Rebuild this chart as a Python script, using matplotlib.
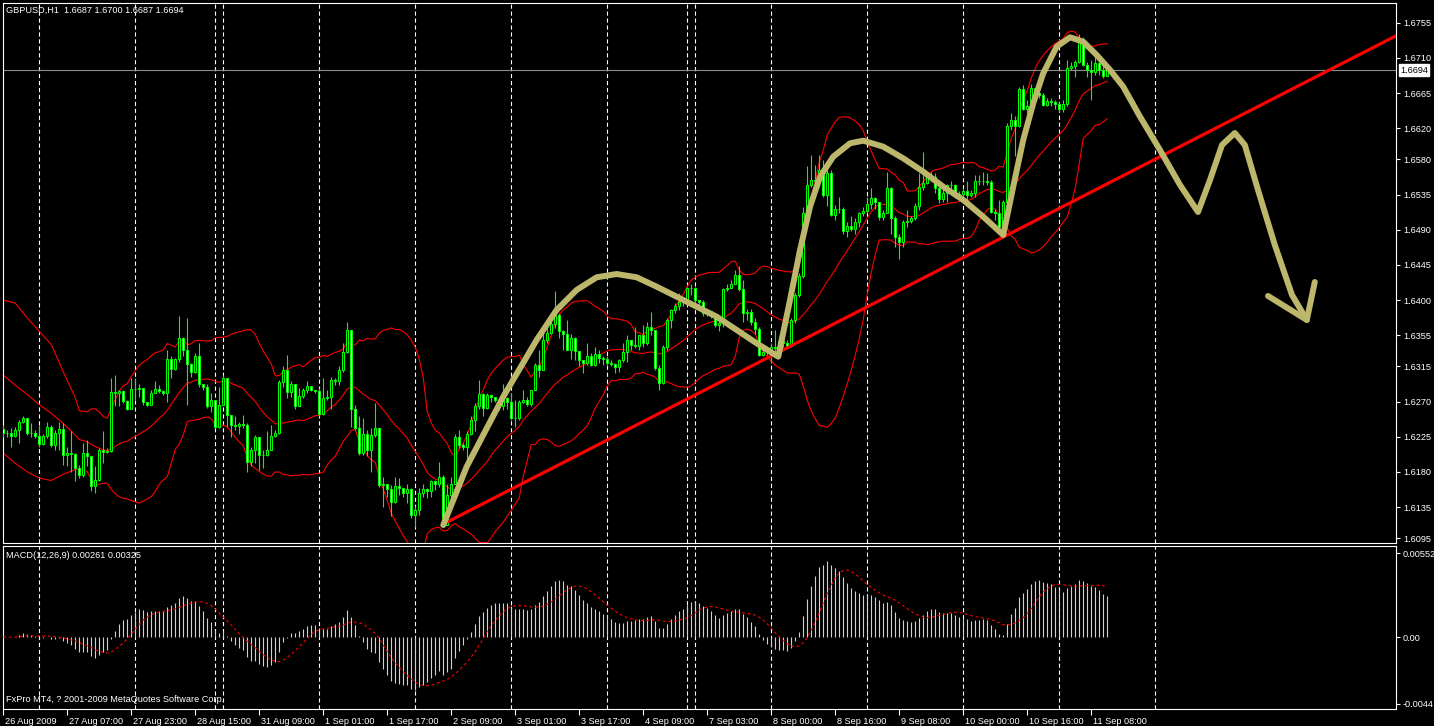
import numpy as np
import pandas as pd
import matplotlib
matplotlib.use("Agg")
import matplotlib.pyplot as plt
import matplotlib.transforms as mtrans

# ---------------- data (prices in pips above 1.6000) ----------------
open0 = 235
close_pips = [
    230, 230, 226, 234, 244, 249, 230, 230, 226, 216,
    226, 238, 215, 230, 235, 201, 204, 203, 185, 176,
    204, 200, 162, 170, 208, 206, 207, 282, 281, 283,
    271, 261, 286, 286, 288, 269, 266, 281, 286, 284,
    281, 325, 312, 325, 352, 336, 318, 308, 328, 293,
    289, 264, 272, 238, 266, 300, 253, 240, 239, 241,
    240, 193, 208, 225, 202, 202, 208, 226, 230, 295,
    311, 282, 292, 264, 277, 285, 290, 285, 283, 254,
    274, 276, 298, 296, 311, 334, 362, 261, 236, 204,
    228, 208, 227, 236, 163, 164, 158, 142, 162, 159,
    153, 158, 125, 131, 153, 158, 155, 168, 165, 174,
    112, 151, 165, 225, 215, 212, 229, 247, 264, 280,
    262, 279, 276, 272, 264, 274, 269, 249, 249, 270,
    272, 267, 285, 317, 310, 349, 358, 369, 381, 360,
    357, 336, 351, 335, 323, 319, 328, 317, 331, 326,
    324, 320, 318, 314, 323, 333, 349, 342, 341, 355,
    345, 365, 362, 313, 294, 340, 374, 387, 392, 397,
    397, 416, 415, 400, 397, 383, 386, 380, 368, 371,
    414, 416, 421, 432, 414, 383, 385, 372, 363, 330,
    334, 335, 340, 338, 347, 345, 341, 374, 406, 431,
    511, 547, 554, 552, 566, 534, 562, 509, 516, 517,
    488, 495, 491, 500, 511, 514, 523, 530, 525, 506,
    512, 543, 505, 481, 474, 500, 501, 505, 520, 545,
    550, 559, 557, 543, 529, 537, 547, 547, 533, 536,
    540, 535, 537, 552, 552, 553, 551, 513, 512, 494,
    526, 623, 630, 623, 670, 645, 648, 672, 665, 663,
    650, 655, 653, 651, 645, 651, 697, 699, 705, 733,
    701, 694, 692, 703, 694, 687, 694,
]
high_pips = [
    240, 234, 236, 238, 247, 251, 249, 242, 234, 240,
    228, 244, 240, 234, 244, 242, 212, 232, 204, 189,
    217, 221, 198, 187, 210, 232, 210, 300, 304, 285,
    285, 272, 300, 300, 293, 285, 270, 285, 296, 291,
    285, 336, 328, 326, 379, 353, 377, 319, 332, 345,
    293, 293, 281, 272, 289, 304, 300, 253, 251, 244,
    253, 242, 212, 227, 221, 208, 232, 240, 234, 298,
    315, 330, 296, 293, 287, 287, 296, 289, 285, 287,
    300, 285, 302, 300, 315, 345, 372, 362, 266, 251,
    249, 234, 236, 268, 227, 174, 165, 163, 174, 172,
    160, 165, 159, 136, 159, 165, 159, 170, 170, 193,
    176, 165, 174, 229, 234, 217, 232, 251, 268, 298,
    281, 281, 278, 276, 272, 293, 276, 281, 272, 272,
    285, 276, 285, 319, 336, 362, 372, 375, 411, 383,
    362, 375, 357, 353, 328, 321, 345, 332, 340, 336,
    328, 328, 323, 319, 325, 345, 355, 349, 366, 355,
    368, 372, 385, 362, 317, 343, 377, 389, 396, 409,
    400, 417, 421, 417, 400, 400, 389, 385, 381, 379,
    415, 421, 426, 439, 443, 426, 389, 389, 377, 366,
    340, 340, 345, 362, 353, 353, 349, 377, 409, 434,
    519, 571, 586, 573, 586, 579, 575, 566, 522, 532,
    519, 500, 507, 505, 513, 519, 532, 543, 532, 524,
    515, 564, 545, 507, 485, 502, 515, 507, 524, 562,
    590, 562, 564, 562, 545, 545, 549, 552, 549, 539,
    543, 552, 541, 560, 560, 564, 562, 554, 517, 528,
    528, 626, 639, 635, 673, 675, 656, 677, 669, 669,
    665, 658, 658, 656, 654, 656, 707, 705, 707, 741,
    737, 705, 707, 712, 705, 709, 700,
]
low_pips = [
    225, 225, 212, 225, 217, 242, 227, 225, 223, 212,
    214, 223, 212, 208, 208, 189, 187, 180, 168, 172,
    174, 187, 155, 153, 168, 191, 204, 206, 264, 264,
    268, 259, 261, 272, 276, 266, 264, 268, 281, 281,
    279, 270, 300, 311, 321, 328, 266, 302, 306, 289,
    285, 262, 257, 236, 236, 266, 238, 225, 234, 229,
    236, 180, 187, 191, 183, 185, 200, 208, 225, 229,
    289, 274, 276, 261, 266, 274, 281, 283, 281, 251,
    253, 272, 261, 291, 291, 308, 332, 238, 234, 202,
    202, 200, 180, 225, 161, 135, 148, 123, 140, 150,
    148, 140, 121, 110, 125, 148, 146, 148, 157, 161,
    110, 125, 146, 165, 210, 208, 189, 227, 232, 261,
    251, 261, 270, 270, 259, 259, 261, 246, 238, 246,
    268, 264, 264, 285, 302, 317, 345, 357, 364, 351,
    336, 336, 325, 323, 315, 306, 317, 315, 315, 319,
    317, 315, 315, 306, 308, 321, 321, 336, 338, 336,
    340, 343, 355, 310, 285, 293, 336, 364, 383, 387,
    392, 396, 407, 394, 387, 379, 379, 377, 366, 360,
    366, 411, 415, 421, 411, 372, 374, 368, 357, 328,
    328, 330, 319, 334, 336, 340, 338, 340, 370, 404,
    428, 507, 545, 547, 545, 532, 520, 507, 502, 511,
    485, 481, 488, 485, 494, 507, 511, 517, 517, 502,
    502, 511, 485, 468, 453, 468, 494, 498, 502, 515,
    541, 549, 552, 537, 524, 526, 526, 539, 530, 528,
    524, 528, 532, 532, 547, 547, 547, 511, 502, 490,
    485, 524, 618, 584, 622, 643, 639, 643, 660, 658,
    648, 648, 648, 645, 641, 641, 648, 694, 686, 703,
    699, 686, 656, 688, 688, 684, 687,
]

# Bollinger band values before 20 bars of history exist
bb_head_bars = [0, 3, 6, 9, 12, 15, 18]
bb_head_upper = [400, 396, 377, 360, 343, 308, 275]
bb_head_mid = [304, 291, 279, 266, 255, 242, 227]
bb_head_lower = [204, 191, 180, 172, 169, 177, 183]

# time axis
tick_bars = list(range(0, 273, 16))
tick_labels = ["26 Aug 2009", "27 Aug 07:00", "27 Aug 23:00", "28 Aug 15:00",
               "31 Aug 09:00", "1 Sep 01:00", "1 Sep 17:00", "2 Sep 09:00",
               "3 Sep 01:00", "3 Sep 17:00", "4 Sep 09:00", "7 Sep 03:00",
               "8 Sep 00:00", "8 Sep 16:00", "9 Sep 08:00", "10 Sep 00:00",
               "10 Sep 16:00", "11 Sep 08:00"]
day_sep_bars = [9, 33, 53, 55, 79, 103, 127, 151, 171, 173, 192, 216, 240, 264, 288]

price_ticks = [1.6755, 1.6710, 1.6665, 1.6620, 1.6580, 1.6535, 1.6490, 1.6445,
               1.6400, 1.6355, 1.6315, 1.6270, 1.6225, 1.6180, 1.6135, 1.6095]
macd_ticks = [0.00552, 0.0, -0.0044]
macd_tick_labels = ["0.00552", "0.00", "-0.0044"]

# hand-drawn annotations (bar index, pips)
trend_bars = [109.9, 348.5]
trend_pips = [113, 739]
gold_bars = [110.0, 115.85, 125.0, 133.35, 138.35, 143.35, 148.35, 153.35, 158.35,
             163.35, 168.35, 173.35, 178.35, 183.35, 188.35, 193.75, 196.7, 199.2,
             201.7, 204.2, 207.5, 211.7, 215.0, 220.0, 225.0, 230.0, 235.0, 240.0,
             245.0, 250.0, 252.5, 255.0, 257.5, 260.0, 263.35, 266.7, 270.0, 273.35,
             276.7, 280.0, 284.2, 289.2, 294.2, 298.7, 301.7, 304.7, 307.9, 310.4,
             313.7, 317.9, 322.2, 325.9]
gold_pips = [112, 186.7, 276.3, 348.9, 387.3, 412.9, 429.1, 433.3, 429.1,
             417.1, 404.3, 391.5, 378.7, 361.7, 344.6, 327.5, 400.1, 464.1,
             519.5, 557.9, 583.5, 600.6, 604, 596.3, 581.4, 564.3, 545.1, 528.1,
             506.7, 483.3, 545.1, 604.9, 651.8, 690.2, 724.3, 736.3, 730.7, 713.7,
             694.5, 673.1, 634.7, 592, 547.3, 512.7, 553.7, 598.5, 613.8, 598.5,
             540.9, 470.5, 406.5, 374.5]
arrow_bars = [316.2, 325.9, 327.9]
arrow_pips = [405.2, 374.5, 423.1]

title_text = "GBPUSD,H1  1.6687 1.6700 1.6687 1.6694"
macd_text = "MACD(12,26,9) 0.00261 0.00325"
copyright_text = "FxPro MT4, ? 2001-2009 MetaQuotes Software Corp."

# ---------------- derived series ----------------
def to_price(p):
    return 1.6 + np.asarray(p, dtype=float) / 10000.0

c = to_price(close_pips)
o = np.r_[to_price([open0]), c[:-1]]
h = np.maximum(to_price(high_pips), np.maximum(o, c))
l = np.minimum(to_price(low_pips), np.minimum(o, c))
n = len(c)
x = np.arange(n)

cs = pd.Series(c)
mid = cs.rolling(20).mean()
sd = cs.rolling(20).std(ddof=0)
up = mid + 2 * sd
dn = mid - 2 * sd

ema12 = cs.ewm(span=12, adjust=False).mean()
ema26 = cs.ewm(span=26, adjust=False).mean()
macd = (ema12 - ema26).values
signal = pd.Series(macd).rolling(9, min_periods=1).mean().values

# ---------------- figure ----------------
plt.rcParams["lines.scale_dashes"] = False
plt.rcParams["font.family"] = ["Liberation Sans", "DejaVu Sans"]
W, H = 1434, 726
fig = plt.figure(figsize=(W / 100, H / 100), dpi=100, facecolor="black")

def fx(px):
    return px / W

def fy(py):
    return 1 - py / H

ax = fig.add_axes([fx(2.7), fy(543.3), fx(1396) - fx(2.7), fy(2.7) - fy(543.3)])
axm = fig.add_axes([fx(2.7), fy(709), fx(1396) - fx(2.7), fy(545.7) - fy(709)])

LIME = "#00FF00"
FS = 6.6
XL = (-0.15, 348.2)

for a in (ax, axm):
    a.set_facecolor("black")
    for s in a.spines.values():
        s.set_color("white")
        s.set_linewidth(0.8)
    a.set_xlim(*XL)
    for b in day_sep_bars:
        a.axvline(b, color="white", lw=0.8, linestyle=(0, (3, 2)), zorder=1)

ax.set_ylim(1.60886, 1.67806)
axm.set_ylim(-0.00473, 0.0060)

# Bollinger bands
hb = np.array(bb_head_bars)
for head, ser in ((bb_head_upper, up), (bb_head_mid, mid), (bb_head_lower, dn)):
    xs = np.r_[hb, x[19:]]
    ys = np.r_[to_price(head), ser.values[19:]]
    ax.plot(xs, ys, color="red", lw=0.8, zorder=2)

# candles
ax.vlines(x, l, h, color=LIME, lw=0.8, zorder=3)
bull = c >= o
ax.bar(x, np.abs(c - o), bottom=np.minimum(o, c), width=0.5,
       color=["black" if b else "white" for b in bull],
       edgecolor=LIME, linewidth=0.75, zorder=4)

# current price line
ax.axhline(c[-1], color="#8c8c8c", lw=0.8, zorder=2)

# annotations
ax.plot(trend_bars, to_price(trend_pips), color="red", lw=2.3, zorder=5,
        solid_capstyle="butt")
ax.plot(gold_bars, to_price(gold_pips), color="#BDB76B", lw=4.3, zorder=6,
        solid_capstyle="round", solid_joinstyle="round")
ax.plot(arrow_bars, to_price(arrow_pips), color="#BDB76B", lw=4.3, zorder=6,
        solid_capstyle="round", solid_joinstyle="round")

# price axis
ax.yaxis.tick_right()
ax.set_yticks(price_ticks)
ax.set_yticklabels([f"{v:.4f}" for v in price_ticks])
ax.tick_params(axis="y", colors="white", labelcolor="white", labelsize=FS,
               length=3, width=0.8, pad=2, direction="out")
ax.set_xticks([])
ax.annotate(f"{c[-1]:.4f}", xy=(1.0, c[-1]), xycoords=("axes fraction", "data"),
            xytext=(3, 0), textcoords="offset points", va="center", ha="left",
            fontsize=FS, color="black",
            bbox=dict(boxstyle="square,pad=0.15", fc="white", ec="white"),
            annotation_clip=False)

# MACD
axm.vlines(x, 0, macd, color="#d0d0d0", lw=0.8, zorder=3)
axm.plot(x, signal, color="red", lw=0.8, linestyle=(0, (2, 2)), zorder=4)
axm.yaxis.tick_right()
axm.set_yticks(macd_ticks)
axm.set_yticklabels(macd_tick_labels)
axm.tick_params(axis="y", colors="white", labelcolor="white", labelsize=FS,
                length=3, width=0.8, pad=2, direction="out")
axm.set_xticks(tick_bars)
axm.set_xticklabels(tick_labels)
axm.tick_params(axis="x", colors="white", labelcolor="white", labelsize=FS,
                length=4, width=0.8, pad=1.5, direction="out")
for lab in axm.get_xticklabels():
    lab.set_horizontalalignment("left")
    lab.set_transform(lab.get_transform() +
                      mtrans.ScaledTranslation(2 / 100, 0, fig.dpi_scale_trans))

# texts
fig.text(fx(6), fy(10), title_text, color="white", fontsize=FS, va="center", ha="left")
fig.text(fx(6), fy(556), macd_text, color="white", fontsize=FS, va="center", ha="left")
fig.text(fx(6), fy(700), copyright_text, color="white", fontsize=FS, va="center", ha="left")

fig.savefig("out.png", dpi=100, facecolor="black")
